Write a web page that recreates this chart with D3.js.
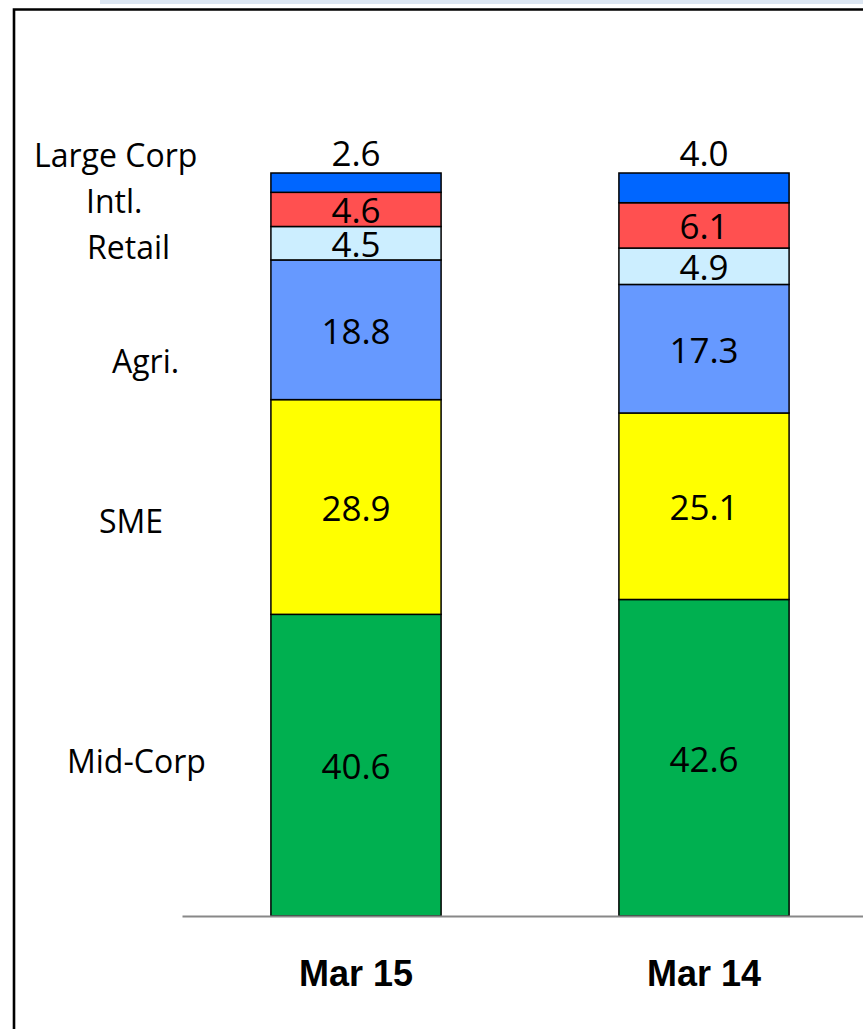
<!DOCTYPE html>
<html>
<head>
<meta charset="utf-8">
<script src="https://cdn.jsdelivr.net/npm/d3@7/dist/d3.min.js"></script>
<style>
  html, body { margin: 0; padding: 0; background: #fff; }
  svg { display: block; }
</style>
</head>
<body>
<svg id="chart" width="863" height="1029"></svg>
<script>
// ---- data ----
const periods = ["Mar 15", "Mar 14"];
const segments = ["Mid-Corp", "SME", "Agri.", "Retail", "Intl.", "Large Corp"];
const midCorp   = [40.6, 42.6];
const sme       = [28.9, 25.1];
const agri      = [18.8, 17.3];
const retail    = [4.5, 4.9];
const intl      = [4.6, 6.1];
const largeCorp = [2.6, 4.0];

// ---- styles / layout (not data) ----
const colors = ["#00b050", "#ffff00", "#6699ff", "#cceeff", "#ff5050", "#0066ff"];
// left-side category label anchors [x, baseline y]
const labelPos = [[67, 773], [99, 533], [112, 373], [87, 259], [86, 213], [34, 167]];

const seriesValues = [midCorp, sme, agri, retail, intl, largeCorp];
const rows = periods.map((p, i) => {
  const r = { period: p };
  segments.forEach((s, k) => r[s] = seriesValues[k][i]);
  return r;
});
const stacked = d3.stack().keys(segments)(rows);

const svg = d3.select("#chart");

// top decorative band and frame
svg.append("rect").attr("x", 100).attr("y", 0).attr("width", 763).attr("height", 4).attr("fill", "#dce6f2");
svg.append("path").attr("d", "M14,1040 L14,9.5 L880,9.5")
  .attr("fill", "none").attr("stroke", "#000").attr("stroke-width", 2.6);

const x = d3.scaleBand().domain(periods).range([182, 878]).paddingInner(0.511).paddingOuter(0.2555);
const y = d3.scaleLinear().domain([0, 100]).range([916, 173]);

// bars
const layers = svg.append("g").selectAll("g").data(stacked).join("g")
  .attr("fill", (d, i) => colors[i]);
layers.selectAll("rect").data(d => d).join("rect")
  .attr("x", d => x(d.data.period))
  .attr("y", d => y(d[1]))
  .attr("width", x.bandwidth())
  .attr("height", d => y(d[0]) - y(d[1]))
  .attr("stroke", "#000").attr("stroke-width", 1.5);

// value labels
const labelFont = "'Open Sans', sans-serif";
stacked.forEach((layer, li) => {
  const isTop = li === stacked.length - 1;
  svg.append("g").selectAll("text").data(layer).join("text")
    .attr("x", d => x(d.data.period) + x.bandwidth() / 2)
    .attr("y", d => isTop ? y(d[1]) - 7 : (y(d[0]) + y(d[1])) / 2 + 14)
    .attr("text-anchor", "middle")
    .attr("font-family", labelFont)
    .attr("font-size", 35)
    .attr("fill", "#000")
    .text(d => (d[1] - d[0]).toFixed(1));
});

// category labels on the left
svg.append("g").selectAll("text").data(segments).join("text")
  .attr("x", (d, i) => labelPos[i][0])
  .attr("y", (d, i) => labelPos[i][1])
  .attr("font-family", labelFont)
  .attr("font-size", 32)
  .attr("fill", "#000")
  .text(d => d);

// x axis
const axis = svg.append("g").attr("transform", `translate(0,${y(0)})`)
  .call(d3.axisBottom(x).tickSize(0).tickSizeOuter(0).tickPadding(70));
axis.select(".domain").attr("stroke", "#888").attr("stroke-width", 2);
axis.selectAll("text")
  .attr("font-family", "'Liberation Sans', Arial, sans-serif")
  .attr("font-weight", "bold")
  .attr("font-size", 36)
  .attr("fill", "#000")
  .attr("dy", 0);
</script>
</body>
</html>
